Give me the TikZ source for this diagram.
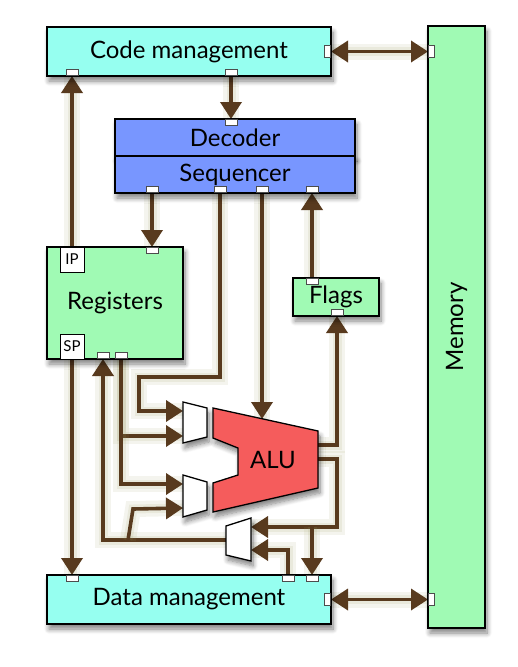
\documentclass[tikz,border=0pt]{standalone}
\usepackage{fontspec}
\setmainfont{Lato}
\usetikzlibrary{arrows.meta, shadows.blur, backgrounds}
\definecolor{mgmtcyan}{RGB}{150,255,240}
\definecolor{storegreen}{RGB}{160,250,180}
\definecolor{unitblue}{RGB}{120,150,255}
\definecolor{alured}{RGB}{245,92,92}
\definecolor{wirebrown}{RGB}{88,58,30}
\definecolor{glowolive}{RGB}{150,150,90}
\tikzset{
  base/.style={draw=black, line width=1.3pt, align=center, inner sep=0pt,
               font=\fontsize{24}{28}\selectfont,
               blur shadow={shadow xshift=2pt, shadow yshift=-5pt, shadow blur radius=5pt,
                            shadow blur steps=8, shadow opacity=50}},
  mgmt/.style  = {base, fill=mgmtcyan, minimum width=284pt, minimum height=49pt},
  unit/.style  = {base, fill=unitblue, minimum width=240pt, minimum height=37pt},
  store/.style = {base, fill=storegreen},
  tag/.style   = {draw=black, line width=0.8pt, fill=white, inner sep=0pt,
                  font=\fontsize{15}{18}\selectfont, minimum width=24pt, minimum height=25pt},
  hport/.style = {draw=black!70, line width=0.6pt, fill=white, inner sep=0pt,
                  minimum width=12pt, minimum height=6pt},
  vport/.style = {hport, minimum width=6pt, minimum height=12pt},
  mux/.style   = {draw=black, line width=1.3pt, fill=white,
                  blur shadow={shadow xshift=2pt, shadow yshift=-5pt, shadow blur radius=5pt,
                               shadow blur steps=8, shadow opacity=50}},
  wire/.style  = {-{Triangle[length=17pt, width=21pt]}, line width=3.6pt, draw=wirebrown,
                  preaction={draw=glowolive, opacity=0.10, line width=16pt, -},
                  preaction={draw=glowolive, opacity=0.12, line width=9pt, -}},
  dwire/.style = {wire, {Triangle[length=17pt, width=21pt]}-{Triangle[length=17pt, width=21pt]}},
}
\begin{document}
\begin{tikzpicture}[x=1pt, y=-1pt]
  \useasboundingbox (0,0) rectangle (517,667);

  % Blocks
  \node[mgmt] (code) at (189,51.5) {Code management};
  \node[store, minimum width=57pt, minimum height=602pt] (mem) at (456.5,327) {};
  \node[rotate=90, font=\fontsize{24}{28}\selectfont] (memlbl) at (mem.center) {Memory};
  \node[unit] (dec) at (235,137.5) {Decoder};
  \node[unit] (seq) at (235,174.5) {Sequencer};
  \node[store, minimum width=136pt, minimum height=112pt] (reg) at (115,303) {Registers};
  \node[tag] (ip) at (72,259.5) {IP};
  \node[tag] (sp) at (72,346.5) {SP};
  \node[store, minimum width=86pt, minimum height=38pt] (flags) at (336,297) {Flags};
  \node[mgmt] (data) at (189,599.5) {Data management};

  % ALU and muxes
  \filldraw[mux, fill=alured] (213,408) -- (318,431) -- (318,488) -- (213,512) -- (213,483)
    -- (238,475) -- (238,448) -- (213,438) -- cycle;
  \node[font=\fontsize{24}{28}\selectfont] (alu) at (273,460) {ALU};
  \filldraw[mux] (183,402) -- (207,408) -- (207,437) -- (183,443) -- cycle;
  \filldraw[mux] (183,475) -- (207,482) -- (207,510) -- (183,517) -- cycle;
  \filldraw[mux] (226,526) -- (251,518) -- (251,561) -- (226,555) -- cycle;
  \coordinate (aluIn) at (262,419);
  \coordinate (aluO1) at (318,445);
  \coordinate (aluO2) at (318,459);
  \coordinate (m1a) at (183,411);
  \coordinate (m1b) at (183,436);
  \coordinate (m2a) at (183,484);
  \coordinate (m2b) at (183,508);
  \coordinate (m3a) at (251,527);
  \coordinate (m3b) at (251,550);
  \coordinate (m3o) at (226,540);
  \coordinate (fb) at (128,540);
  \coordinate (br) at (312,527);

  % Ports
  \node[hport, anchor=south] (codeA) at (72,76) {};
  \node[hport, anchor=south] (codeB) at (231,76) {};
  \node[vport, anchor=east]  (codeR) at (331,51.5) {};
  \node[hport, anchor=north] (decT) at (231,119) {};
  \node[hport, anchor=south] (seqA) at (152,193) {};
  \node[hport, anchor=south] (seqB) at (220,193) {};
  \node[hport, anchor=south] (seqC) at (262,193) {};
  \node[hport, anchor=south] (seqD) at (312,193) {};
  \node[hport, anchor=north] (regT) at (152,247) {};
  \node[hport, anchor=south] (regA) at (103,359) {};
  \node[hport, anchor=south] (regB) at (121,359) {};
  \node[hport, anchor=north] (flagT) at (312,278) {};
  \node[hport, anchor=south] (flagB) at (337,316) {};
  \node[hport, anchor=north] (dataA) at (72,575) {};
  \node[hport, anchor=north] (dataB) at (288,575) {};
  \node[hport, anchor=north] (dataC) at (312,575) {};
  \node[vport, anchor=east]  (dataR) at (331,599.5) {};
  \node[vport, anchor=west]  (memA) at (428,51.5) {};
  \node[vport, anchor=west]  (memB) at (428,599.5) {};

  % Wires
  \begin{scope}[on background layer]
    \draw[wire] (ip.north) -- (codeA.south);
    \draw[wire] (codeB.south) -- (decT.north);
    \draw[wire] (seqA.south) -- (regT.north);
    \draw[wire] (flagT.north) -- (seqD.south);
    \draw[wire] (seqB.south) |- (139,377) |- (m1a);
    \draw[wire] (seqC.south) -- (aluIn);
    \draw[wire] (regB.south) |- (m1b);
    \draw[wire] (regB.south) |- (m2a);
    \draw[wire] (m3o) -| (regA.south);
    \draw[wire] (fb) -- (133,509) -- (m2b);
    \draw[wire] (aluO1) -| (flagB.south);
    \draw[wire] (aluO2) -| (337,527) -- (m3a);
    \draw[wire] (br) -- (dataC.north);
    \draw[wire] (dataB.north) |- (m3b);
    \draw[wire] (sp.south) -- (dataA.north);
    \draw[dwire] (codeR.east) -- (memA.west);
    \draw[dwire] (dataR.east) -- (memB.west);
  \end{scope}
\end{tikzpicture}
\end{document}
